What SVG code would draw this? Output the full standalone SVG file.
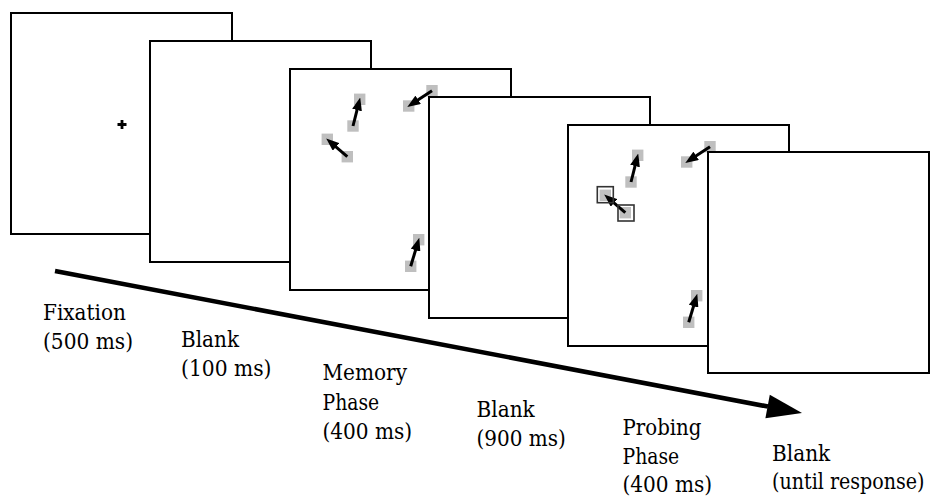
<svg xmlns="http://www.w3.org/2000/svg" xmlns:xlink="http://www.w3.org/1999/xlink" width="932" height="497" viewBox="0 0 932 497">
<style>
.panel{fill:#fff;stroke:#000;stroke-width:2}
.sq{fill:#bfbfbf}
.ar{stroke:#000;stroke-width:3;fill:none;marker-end:url(#ah)}
.ol{fill:none;stroke:#333;stroke-width:1.6}
</style>
<defs>
<marker id="ah" viewBox="0 0 13 10" refX="4" refY="5" markerWidth="13" markerHeight="10" markerUnits="userSpaceOnUse" orient="auto">
<path d="M0,0 L13,5 L0,10 z" fill="#000"/>
</marker>
<g id="stim">
<rect class="sq" x="57.3" y="51.3" width="11.4" height="11.4"/>
<rect class="sq" x="64" y="24.6" width="11.4" height="11.4"/>
<rect class="sq" x="136.3" y="16" width="11.4" height="11.4"/>
<rect class="sq" x="113" y="31.3" width="11.4" height="11.4"/>
<rect class="sq" x="51.6" y="82" width="11.4" height="11.4"/>
<rect class="sq" x="31.6" y="64.6" width="11.4" height="11.4"/>
<rect class="sq" x="115" y="191.6" width="11.4" height="11.4"/>
<rect class="sq" x="123" y="165" width="11.4" height="11.4"/>
<line class="ar" x1="63" y1="57" x2="68" y2="37.2"/>
<line class="ar" x1="142" y1="21.7" x2="124.8" y2="33"/>
<line class="ar" x1="57.3" y1="87.7" x2="43" y2="75.3"/>
<line class="ar" x1="120.7" y1="197.3" x2="126.7" y2="177.4"/>
</g>
</defs>

<g id="fixation">
<rect class="panel" x="11" y="13" width="221" height="221"/>
<path d="M117.5,124.5 H126.5 M122,120 V129" stroke="#000" stroke-width="2.8"/>
</g>
<g id="blank1">
<rect class="panel" x="150" y="41" width="221" height="221"/>
</g>
<g id="memory">
<rect class="panel" x="290" y="69" width="221" height="221"/>
<use xlink:href="#stim" transform="translate(290,69)"/>
</g>
<g id="blank2">
<rect class="panel" x="429" y="97" width="221" height="221"/>
</g>
<g id="probing">
<rect class="panel" x="568" y="125" width="221" height="221"/>
<use xlink:href="#stim" transform="translate(568,125)"/>
<rect class="ol" x="597.3" y="186.7" width="16" height="16"/>
<rect class="ol" x="618" y="205" width="16" height="16"/>
</g>
<g id="blank3">
<rect class="panel" x="708" y="152" width="221" height="221"/>
</g>

<g id="connectors">
<line x1="55" y1="271" x2="768" y2="406.6" stroke="#000" stroke-width="4.6"/>
<polygon points="802,413 769.8,394.7 765.4,418.3" fill="#000"/>
</g>

<g id="labels" font-family="DejaVu Serif, Liberation Serif, serif" font-size="22.5" fill="#000">
<text x="43" y="320" textLength="83" lengthAdjust="spacingAndGlyphs">Fixation</text>
<text x="43" y="349" textLength="90" lengthAdjust="spacingAndGlyphs">(500 ms)</text>
<text x="181" y="347" textLength="58" lengthAdjust="spacingAndGlyphs">Blank</text>
<text x="181" y="376" textLength="90.5" lengthAdjust="spacingAndGlyphs">(100 ms)</text>
<text x="322.5" y="380" textLength="84.5" lengthAdjust="spacingAndGlyphs">Memory</text>
<text x="322.5" y="409.5" textLength="56.7" lengthAdjust="spacingAndGlyphs">Phase</text>
<text x="322.5" y="439" textLength="89.7" lengthAdjust="spacingAndGlyphs">(400 ms)</text>
<text x="476.5" y="416.5" textLength="58.3" lengthAdjust="spacingAndGlyphs">Blank</text>
<text x="476.5" y="445.5" textLength="89.3" lengthAdjust="spacingAndGlyphs">(900 ms)</text>
<text x="622.5" y="435" textLength="79" lengthAdjust="spacingAndGlyphs">Probing</text>
<text x="622.5" y="464" textLength="56.7" lengthAdjust="spacingAndGlyphs">Phase</text>
<text x="622.5" y="492" textLength="89.7" lengthAdjust="spacingAndGlyphs">(400 ms)</text>
<text x="772" y="461" textLength="58.3" lengthAdjust="spacingAndGlyphs">Blank</text>
<text transform="translate(772,489) scale(0.82,1)" x="0" y="0" textLength="186" lengthAdjust="spacingAndGlyphs">(until response)</text>
</g>
</svg>
